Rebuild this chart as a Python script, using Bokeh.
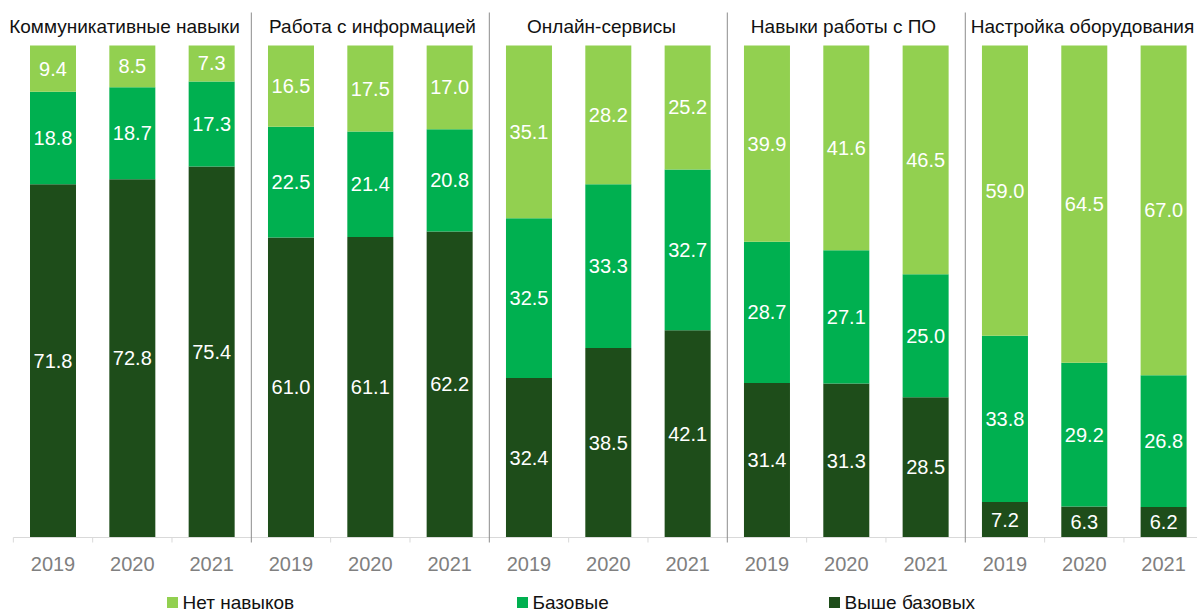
from bokeh.plotting import figure
from bokeh.models import Range1d
from bokeh.core.properties import value
from bokeh.embed import file_html
from bokeh.resources import INLINE

# ---- data ----
groups = ["Коммуникативные навыки", "Работа с информацией", "Онлайн-сервисы",
          "Навыки работы с ПО", "Настройка оборудования"]
years = ["2019", "2020", "2021"]
series_names = ["Нет навыков", "Базовые", "Выше базовых"]
no_skills = [9.4, 8.5, 7.3, 16.5, 17.5, 17.0, 35.1, 28.2, 25.2, 39.9, 41.6, 46.5, 59.0, 64.5, 67.0]
basic = [18.8, 18.7, 17.3, 22.5, 21.4, 20.8, 32.5, 33.3, 32.7, 28.7, 27.1, 25.0, 33.8, 29.2, 26.8]
above = [71.8, 72.8, 75.4, 61.0, 61.1, 62.2, 32.4, 38.5, 42.1, 31.4, 31.3, 28.5, 7.2, 6.3, 6.2]

colors = ["#92D050", "#00B050", "#1E4D1A"]

W, H = 1197, 614
Y0, SY = 537.0, 4.92          # pixel of 0 and pixels per unit
X0, SX = 52.5, 79.33          # pixel of first category centre, pixels per category


def ypx(px):
    return (Y0 - px) / SY


def xpx(px):
    return (px - X0) / SX


p = figure(width=W, height=H, output_backend="svg", toolbar_location=None,
           x_range=Range1d(xpx(0), xpx(W)), y_range=Range1d(ypx(H), ypx(0)),
           min_border=0, min_border_left=0, min_border_right=0,
           min_border_top=0, min_border_bottom=0)
p.axis.visible = False
p.grid.visible = False
p.outline_line_color = None
p.background_fill_color = "white"
p.border_fill_color = "white"

n = len(above)
xs = list(range(n))
b1 = [0.0] * n
t1 = [above[i] for i in range(n)]
t2 = [above[i] + basic[i] for i in range(n)]
t3 = [above[i] + basic[i] + no_skills[i] for i in range(n)]

bw = 46 / SX
for bottoms, tops, col in [(b1, t1, colors[2]), (t1, t2, colors[1]), (t2, t3, colors[0])]:
    p.vbar(x=xs, bottom=bottoms, top=tops, width=bw, fill_color=col, line_color=None)

# value labels
lx, ly, lt = [], [], []
for i in range(n):
    for bot, top, v in [(b1[i], t1[i], above[i]), (t1[i], t2[i], basic[i]), (t2[i], t3[i], no_skills[i])]:
        lx.append(i)
        ly.append((bot + top) / 2)
        lt.append(f"{v:.1f}")
p.text(x=lx, y=ly, text=lt, text_color="white", text_align="center",
       text_baseline="middle", text_font=value("Liberation Sans"),
       text_font_size="20px")

# axis line and ticks
p.segment(x0=[-0.5], y0=[0], x1=[n - 0.5], y1=[0], line_color="#d9d9d9", line_width=1)
tick_x = [i - 0.5 for i in range(n + 1) if i % 3 != 0 or i == 0]
p.segment(x0=tick_x, y0=[0] * len(tick_x), x1=tick_x, y1=[ypx(542)] * len(tick_x),
          line_color="#d9d9d9", line_width=1)

# separators between groups
sep_x = [3 * g - 0.5 for g in range(1, len(groups))]
p.segment(x0=sep_x, y0=[ypx(12)] * len(sep_x), x1=sep_x, y1=[ypx(542)] * len(sep_x),
          line_color="#8c8c8c", line_width=1)

# year labels
p.text(x=xs, y=[ypx(563)] * n, text=[years[i % 3] for i in range(n)],
       text_color="#808080", text_align="center", text_baseline="middle",
       text_font=value("Liberation Sans"), text_font_size="20px")

# group titles
title_x = [xpx(124), xpx(372), xpx(601), xpx(843), xpx(1082)]
p.text(x=title_x, y=[ypx(26)] * len(groups), text=groups,
       text_color="#111111", text_align="center", text_baseline="middle",
       text_font=value("Liberation Sans"), text_font_size="19px")

# legend
leg_px = [172, 522, 834]
p.rect(x=[xpx(v) for v in leg_px], y=[ypx(602)] * 3, width=11, height=11,
       width_units="screen", height_units="screen", fill_color=colors, line_color=None)
p.text(x=[xpx(v + 10) for v in leg_px], y=[ypx(602)] * 3, text=series_names,
       text_color="#111111", text_align="left", text_baseline="middle",
       text_font=value("Liberation Sans"), text_font_size="19px")

open("out.html", "w").write(file_html(p, INLINE))
